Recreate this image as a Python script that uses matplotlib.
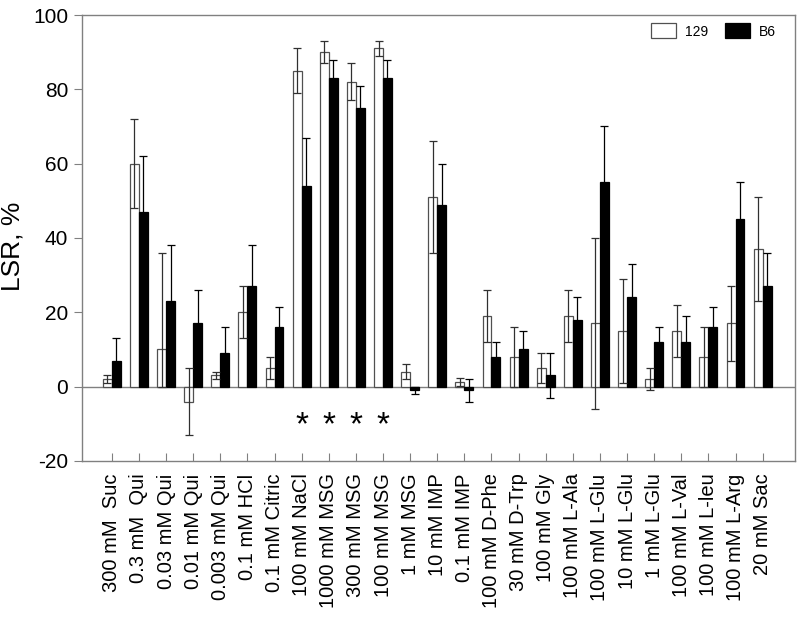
import matplotlib
matplotlib.use("Agg")
import matplotlib.pyplot as plt
import matplotlib.transforms as mtransforms
import numpy as np

plt.rcParams['font.family'] = ['Liberation Sans', 'DejaVu Sans']

categories = ["300 mM  Suc", "0.3 mM  Qui", "0.03 mM Qui", "0.01 mM Qui", "0.003 mM Qui",
              "0.1 mM HCl", "0.1 mM Citric", "100 mM NaCl", "1000 mM MSG", "300 mM MSG",
              "100 mM MSG", "1 mM MSG", "10 mM IMP", "0.1 mM IMP", "100 mM D-Phe",
              "30 mM D-Trp", "100 mM Gly", "100 mM L-Ala", "100 mM L-Glu", "10 mM L-Glu",
              "1 mM L-Glu", "100 mM L-Val", "100 mM L-leu", "100 mM L-Arg", "20 mM Sac"]

v129 = [2, 60, 10, -4, 3, 20, 5, 85, 90, 82, 91, 4, 51, 1.2, 19, 8, 5, 19, 17, 15, 2, 15, 8, 17, 37]
e129_lo = [1, 12, 10, 9, 1, 7, 3, 6, 3, 5, 2, 2, 15, 1, 7, 8, 4, 7, 23, 14, 3, 7, 8, 10, 14]
e129_hi = [1, 12, 26, 9, 1, 7, 3, 6, 3, 5, 2, 2, 15, 1, 7, 8, 4, 7, 23, 14, 3, 7, 8, 10, 14]

vB6 = [7, 47, 23, 17, 9, 27, 16, 54, 83, 75, 83, -1, 49, -1, 8, 10, 3, 18, 55, 24, 12, 12, 16, 45, 27]
eB6 = [6, 15, 15, 9, 7, 11, 5.5, 13, 5, 6, 5, 1, 11, 3, 4, 5, 6, 6, 15, 9, 4, 7, 5.5, 10, 9]

significant = ["100 mM NaCl", "1000 mM MSG", "300 mM MSG", "100 mM MSG"]

yticks = [-20, 0, 20, 40, 60, 80, 100]

fig = plt.figure(figsize=(8, 6.2), dpi=100)
ax = fig.add_axes([0.1025, 0.2565, 0.8915, 0.7193])

x = np.arange(len(categories))
w = 0.33
gray = '#808080'

ax.bar(x - w/2, v129, width=w, color='white', edgecolor='#505050', linewidth=0.9, label='129', zorder=2)
ax.bar(x + w/2, vB6, width=w, color='black', edgecolor='black', linewidth=0.9, label='B6', zorder=2)
ax.errorbar(x - w/2, v129, yerr=[e129_lo, e129_hi], fmt='none', ecolor='#303030',
            elinewidth=0.9, capsize=3.2, capthick=0.9, zorder=3)
ax.errorbar(x + w/2, vB6, yerr=eB6, fmt='none', ecolor='black',
            elinewidth=0.9, capsize=3.2, capthick=0.9, zorder=3)

ax.axhline(0, color=gray, linewidth=1.0, zorder=1)

for name in significant:
    i = categories.index(name)
    ax.text(x[i], -10.5, '*', ha='center', va='center', fontsize=24, color='black')

ax.set_xlim(-1.1, 25.2)
ax.set_ylim(-20, 100)
ax.set_yticks(yticks)
ax.set_yticklabels([str(t) for t in yticks], fontsize=15)
ax.set_xticks(x)
ax.set_xticklabels(categories, rotation=90, fontsize=14.5, va='top', ha='center')
shift = mtransforms.ScaledTranslation(3 / 100, 0, fig.dpi_scale_trans)
for lab in ax.get_xticklabels():
    lab.set_transform(lab.get_transform() + shift)
ax.tick_params(axis='x', direction='in', length=6, color=gray, pad=9)
ax.tick_params(axis='y', direction='out', length=6, color=gray, pad=4)
for s in ax.spines.values():
    s.set_color(gray)
    s.set_linewidth(1.0)

ax.set_ylabel('LSR, %', fontsize=19, va='center')
ax.yaxis.set_label_coords(-0.097, 0.482)

leg = ax.legend(loc='upper right', ncol=2, frameon=False, fontsize=10,
                handlelength=1.8, handleheight=1.3, handletextpad=0.65,
                columnspacing=1.2, borderaxespad=0.2, bbox_to_anchor=(0.985, 1.0))

fig.savefig('out.png', dpi=100)
